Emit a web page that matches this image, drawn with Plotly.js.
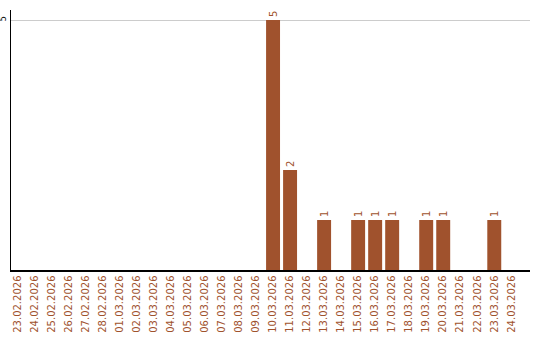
<!DOCTYPE html>
<html>
<head>
<meta charset="utf-8">
<script src="https://cdn.plot.ly/plotly-3.0.1.min.js"></script>
<style>html,body{margin:0;padding:0;background:#fff;}#chart{width:540px;height:340px;}</style>
</head>
<body>
<div id="chart"></div>
<script>
const dates = ["23.02.2026","24.02.2026","25.02.2026","26.02.2026","27.02.2026","28.02.2026","01.03.2026","02.03.2026","03.03.2026","04.03.2026","05.03.2026","06.03.2026","07.03.2026","08.03.2026","09.03.2026","10.03.2026","11.03.2026","12.03.2026","13.03.2026","14.03.2026","15.03.2026","16.03.2026","17.03.2026","18.03.2026","19.03.2026","20.03.2026","21.03.2026","22.03.2026","23.03.2026","24.03.2026"];
const counts = [0,0,0,0,0,0,0,0,0,0,0,0,0,0,0,5,2,0,1,0,1,1,1,0,1,1,0,0,1,0];
const labels = counts.map(v => v > 0 ? String(v) : "");
const barColor = "#A0522D";

Plotly.newPlot("chart", [{
  type: "bar",
  x: dates,
  y: counts,
  text: labels,
  textposition: "outside",
  textangle: -90,
  cliponaxis: false,
  textfont: {family: "DejaVu Sans", size: 10, color: barColor},
  marker: {color: barColor},
  hoverinfo: "none"
}], {
  width: 540, height: 340,
  margin: {l: 11, r: 10, t: 10, b: 70},
  paper_bgcolor: "#fff", plot_bgcolor: "#fff",
  bargap: 0.18,
  showlegend: false,
  font: {family: "DejaVu Sans", size: 10, color: barColor},
  xaxis: {
    type: "category",
    range: [-0.4, 30.1],
    tickangle: -90,
    tickfont: {family: "DejaVu Sans", size: 10, color: barColor},
    showline: true, linecolor: "#000", linewidth: 1.5,
    showgrid: false, ticks: "", zeroline: false,
    automargin: false
  },
  yaxis: {
    range: [0, 5.2],
    tickvals: [5],
    ticktext: ["5"],
    tickangle: -90,
    tickfont: {family: "DejaVu Sans", size: 8, color: "#000"},
    showline: true, linecolor: "#000", linewidth: 1.5,
    showgrid: true, gridcolor: "#cccccc", gridwidth: 1,
    zeroline: false, ticks: "", ticklabelstandoff: 0,
    automargin: false
  }
}, {staticPlot: true, displayModeBar: false});
</script>
</body>
</html>
